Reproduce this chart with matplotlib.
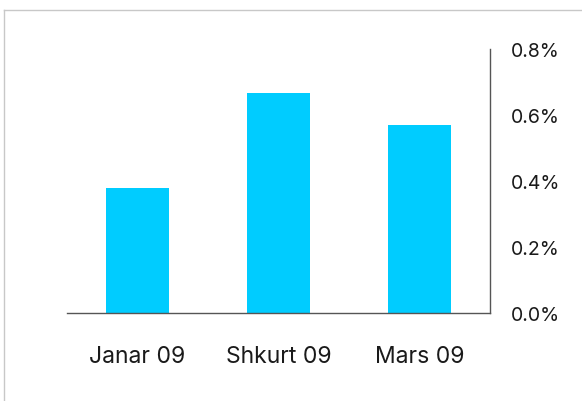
import matplotlib.pyplot as plt
from matplotlib.lines import Line2D
from matplotlib.ticker import FuncFormatter

categories = ["Janar 09", "Shkurt 09", "Mars 09"]
values = [0.38, 0.667, 0.57]
yticks = [0.0, 0.2, 0.4, 0.6, 0.8]

plt.rcParams['font.family'] = ['Inter', 'DejaVu Sans']

fig = plt.figure(figsize=(5.82, 4.02), dpi=100)
W, H = 582, 402
ax = fig.add_axes([67 / W, 1 - 314 / H, (490 - 67) / W, (314 - 50) / H])

ax.bar(range(len(categories)), values, width=0.44, color="#00CCFF")
ax.set_xlim(-0.5, len(categories) - 0.5)
ax.set_ylim(0, 0.8)
ax.set_yticks(yticks)
ax.yaxis.set_major_formatter(FuncFormatter(lambda v, p: f"{v:.1f}%"))
ax.set_xticks(range(len(categories)))
ax.set_xticklabels(categories)

ax.yaxis.tick_right()
ax.tick_params(axis="both", length=0, colors="#1a1a1a")
ax.tick_params(axis="y", pad=15, labelsize=14)
ax.tick_params(axis="x", pad=23, labelsize=16.5)

for s in ("top", "left"):
    ax.spines[s].set_visible(False)
for s in ("bottom", "right"):
    ax.spines[s].set_color("#555555")
    ax.spines[s].set_linewidth(1.0)

# light frame around the chart area
fig.add_artist(Line2D([4 / W, 1], [1 - 11 / H, 1 - 11 / H], color="#c8c8c8", lw=1.0))
fig.add_artist(Line2D([4 / W, 4 / W], [0, 1 - 11 / H], color="#c8c8c8", lw=1.0))

fig.savefig("out.png", dpi=100)
